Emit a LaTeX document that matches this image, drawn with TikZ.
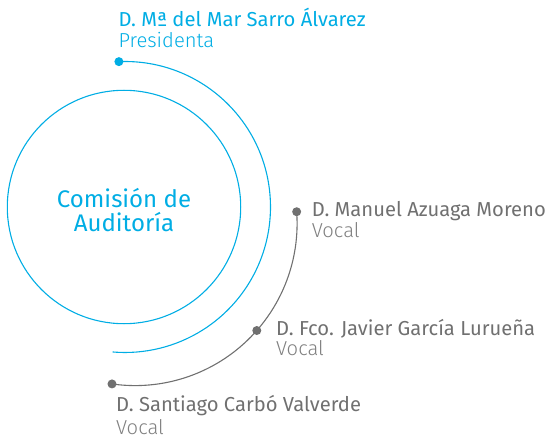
\documentclass[tikz,border=0pt]{standalone}
\usepackage{fontspec}
\setmainfont{Fira Sans}
\newfontfamily\ligera{Fira Sans Light}
\usepackage{tikz}
\usetikzlibrary{calc}

\definecolor{cian}{RGB}{0,173,228}
\definecolor{grisl}{RGB}{112,112,112}
\definecolor{grist}{RGB}{128,128,128}

\begin{document}
\begin{tikzpicture}[x=1pt,y=1pt,
   punto/.style={circle,fill,inner sep=0pt,minimum size=9pt},
   nombre/.style={anchor=base west,inner sep=0pt,font=\fontsize{20.2}{21}\selectfont},
   cargo/.style={anchor=base west,inner sep=0pt,font=\ligera\fontsize{20.2}{21}\selectfont}]
   \useasboundingbox (0,0) rectangle (549,437);

   % comision
   \node[circle,draw=cian,line width=1.1pt,minimum size=233.4pt,inner sep=0pt] (comision) at (124,230) {};
   \node[cian,align=center,inner sep=0pt,font=\fontsize{24}{23.4}\selectfont] (titulo) at ([yshift=-3pt]comision.center) {Comisión de\\Auditoría};

   % presidenta
   \coordinate (cc) at (125,230);
   \draw[cian,line width=1.1pt] ($(cc)+(92.4:145.5)$) coordinate (p1) arc (92.4:-94.85:145.5);
   \node[punto,cian] (dp) at (p1) {};
   \node[nombre,cian] (pres) at (118.3,410.3) {D. Mª del Mar Sarro Álvarez};
   \node[cargo,cian] (presc) at ([yshift=-21pt]pres.base west) {Presidenta};

   % vocales
   \coordinate (cg) at (135.1,213.4);
   \draw[grisl,line width=1.1pt] ($(cg)+(4.2:162)$) coordinate (v1) arc (4.2:-98.2:162) coordinate (v3);
   \coordinate (v2) at ($(cg)+(-41.3:162)$);
   \node[punto,grisl] (dv1) at (v1) {};
   \node[punto,grisl] (dv2) at (v2) {};
   \node[punto,grisl] (dv3) at (v3) {};

   \node[nombre,grisl] (manuel) at (311.7,220.3) {D. Manuel Azuaga Moreno};
   \node[cargo,grist] (manuelc) at ([yshift=-21pt]manuel.base west) {Vocal};
   \node[nombre,grisl] (javier) at (276,102) {D. Fco. Javier García Lurueña};
   \node[cargo,grist] (javierc) at ([yshift=-20.5pt]javier.base west) {Vocal};
   \node[nombre,grisl] (santiago) at (116,25.5) {D. Santiago Carbó Valverde};
   \node[cargo,grist] (santiagoc) at ([yshift=-22.5pt]santiago.base west) {Vocal};
\end{tikzpicture}
\end{document}
